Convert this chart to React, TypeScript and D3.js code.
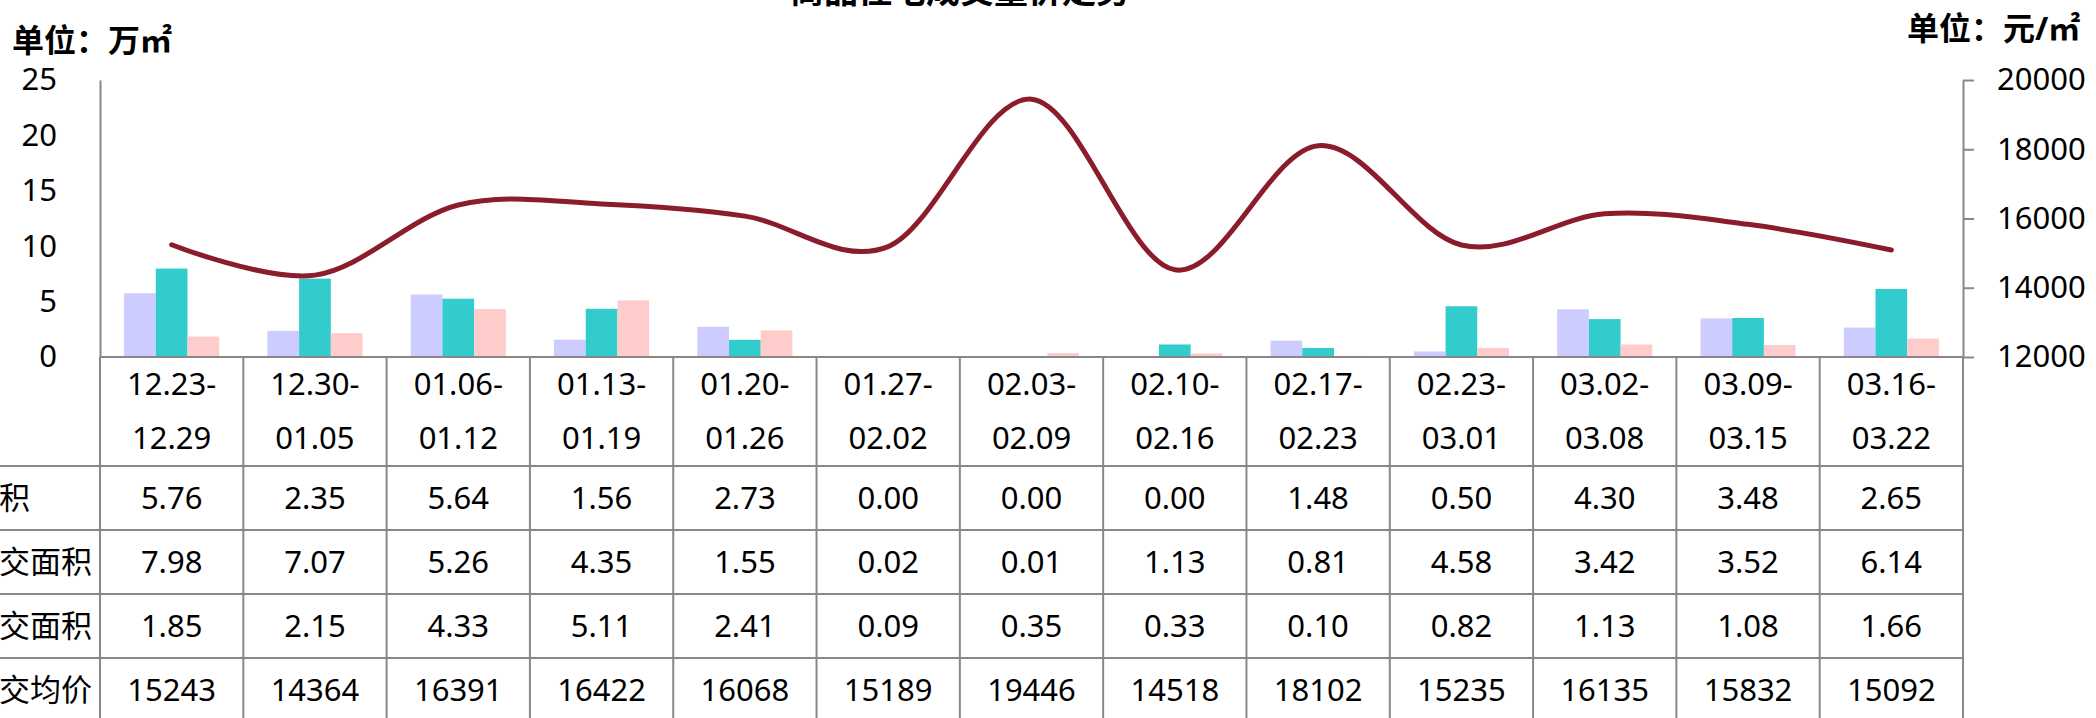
import { useEffect, useRef } from 'react';
import * as d3 from 'd3';

// 周度数据
const weeks = [
  '12.23-12.29', '12.30-01.05', '01.06-01.12', '01.13-01.19', '01.20-01.26',
  '01.27-02.02', '02.03-02.09', '02.10-02.16', '02.17-02.23', '02.23-03.01',
  '03.02-03.08', '03.09-03.15', '03.16-03.22',
];
const supplyArea = [5.76, 2.35, 5.64, 1.56, 2.73, 0.0, 0.0, 0.0, 1.48, 0.5, 4.3, 3.48, 2.65];
const dealArea = [7.98, 7.07, 5.26, 4.35, 1.55, 0.02, 0.01, 1.13, 0.81, 4.58, 3.42, 3.52, 6.14];
const resaleArea = [1.85, 2.15, 4.33, 5.11, 2.41, 0.09, 0.35, 0.33, 0.1, 0.82, 1.13, 1.08, 1.66];
const avgPrice = [15243, 14364, 16391, 16422, 16068, 15189, 19446, 14518, 18102, 15235, 16135, 15832, 15092];

const rowLabels = ['供应面积', '商品住宅成交面积', '二手住宅成交面积', '商品住宅成交均价'];
const barColors = ['#CCCCFF', '#33CCCC', '#FFCCCC'];
const leftTicks = [0, 5, 10, 15, 20, 25];
const rightTicks = [12000, 14000, 16000, 18000, 20000];

const FONT = "'Noto Sans', 'Noto Sans CJK SC', sans-serif";

export default function App() {
  const svgRef = useRef<SVGSVGElement>(null);

  useEffect(() => {
    if (!svgRef.current) return;
    const width = 2096;
    const height = 718;
    const svg = d3.select(svgRef.current);
    svg.selectAll('*').remove();
    svg.attr('width', width).attr('height', height);

    svg.append('rect').attr('width', width).attr('height', height).attr('fill', '#fff');

    const left = 100;
    const right = 1963;
    const top = 80;
    const base = 357;
    const fs = 31;

    const x0 = d3.scaleBand<string>().domain(weeks).range([left, right]);
    const keys = ['supply', 'deal', 'resale'];
    const x1 = d3.scaleBand<string>().domain(keys).range([0, x0.bandwidth()])
      .paddingInner(0).paddingOuter(0.76);
    const yL = d3.scaleLinear().domain([0, 25]).range([base, top]);
    const yR = d3.scaleLinear().domain([12000, 20000]).range([base, top]);

    // 柱子
    const series = [supplyArea, dealArea, resaleArea];
    series.forEach((vals, k) => {
      svg.append('g').selectAll('rect')
        .data(vals)
        .join('rect')
        .attr('x', (_, i) => (x0(weeks[i]) as number) + (x1(keys[k]) as number))
        .attr('y', d => yL(d))
        .attr('width', x1.bandwidth())
        .attr('height', d => base - yL(d))
        .attr('fill', barColors[k]);
    });

    // 均价曲线
    const line = d3.line<number>()
      .x((_, i) => (x0(weeks[i]) as number) + x0.bandwidth() / 2)
      .y(d => yR(d))
      .curve(d3.curveCardinal.tension(0));
    svg.append('path')
      .attr('d', line(avgPrice))
      .attr('fill', 'none')
      .attr('stroke', '#8B1C2C')
      .attr('stroke-width', 5)
      .attr('stroke-linecap', 'round');

    // 左轴
    const gL = svg.append('g')
      .attr('transform', `translate(${left},0)`)
      .call(d3.axisLeft(yL).tickValues(leftTicks).tickSize(0).tickPadding(43));
    gL.select('.domain').attr('stroke', '#888').attr('stroke-width', 2);
    gL.selectAll('text').attr('font-size', fs).attr('font-family', FONT).attr('fill', '#000');

    // 右轴
    const gR = svg.append('g')
      .attr('transform', `translate(${right},0)`)
      .call(d3.axisRight(yR).tickValues(rightTicks).tickFormat(d3.format('d'))
        .tickSize(11).tickSizeOuter(0).tickPadding(23));
    gR.select('.domain').attr('stroke', '#888').attr('stroke-width', 2);
    gR.selectAll('line').attr('stroke', '#888').attr('stroke-width', 2);
    gR.selectAll('text').attr('font-size', fs).attr('font-family', FONT).attr('fill', '#000');

    // 数据表
    const headBottom = 466;
    const rowH = 64;
    const grid = svg.append('g').attr('stroke', '#888').attr('stroke-width', 2);
    grid.append('line').attr('x1', left).attr('x2', right).attr('y1', base).attr('y2', base);
    for (let r = 0; r <= rowLabels.length; r++) {
      const y = headBottom + r * rowH;
      grid.append('line').attr('x1', 0).attr('x2', right).attr('y1', y).attr('y2', y);
    }
    [...weeks, null].forEach(w => {
      const x = w ? (x0(w) as number) : right;
      grid.append('line').attr('x1', x).attr('x2', x).attr('y1', base).attr('y2', height);
    });

    const text = svg.append('g')
      .attr('font-family', FONT)
      .attr('font-size', fs)
      .attr('fill', '#000')
      .attr('text-anchor', 'middle');

    weeks.forEach(w => {
      const cx = (x0(w) as number) + x0.bandwidth() / 2;
      const [a, b] = w.split('-');
      text.append('text').attr('x', cx).attr('y', 383.5 + fs * 0.36).text(a + '-');
      text.append('text').attr('x', cx).attr('y', 437.5 + fs * 0.36).text(b);
    });

    const rows = [supplyArea, dealArea, resaleArea, avgPrice];
    const f2 = d3.format('.2f');
    rows.forEach((vals, r) => {
      const cy = headBottom + r * rowH + rowH / 2;
      vals.forEach((v, i) => {
        const cx = (x0(weeks[i]) as number) + x0.bandwidth() / 2;
        text.append('text').attr('x', cx).attr('y', cy + fs * 0.36)
          .text(r < 3 ? f2(v) : String(v));
      });
      // 行标题左侧被裁掉，与原图一致
      text.append('text').attr('x', -32).attr('y', cy + fs * 0.36).text(rowLabels[r]);
    });

    // 标题和单位
    svg.append('text')
      .attr('x', 960).attr('y', 3)
      .attr('text-anchor', 'middle')
      .attr('font-family', FONT).attr('font-size', 34).attr('font-weight', 'bold')
      .text('商品住宅成交量价走势');

    svg.append('text')
      .attr('x', 12).attr('y', 52)
      .attr('font-family', FONT).attr('font-size', 32).attr('font-weight', 'bold')
      .text('单位：万㎡');

    svg.append('text')
      .attr('x', 1907).attr('y', 40)
      .attr('font-family', FONT).attr('font-size', 32).attr('font-weight', 'bold')
      .text('单位：元/㎡');
  }, []);

  return (
    <svg ref={svgRef} style={{ position: 'absolute', left: 0, top: 0, display: 'block' }} />
  );
}
